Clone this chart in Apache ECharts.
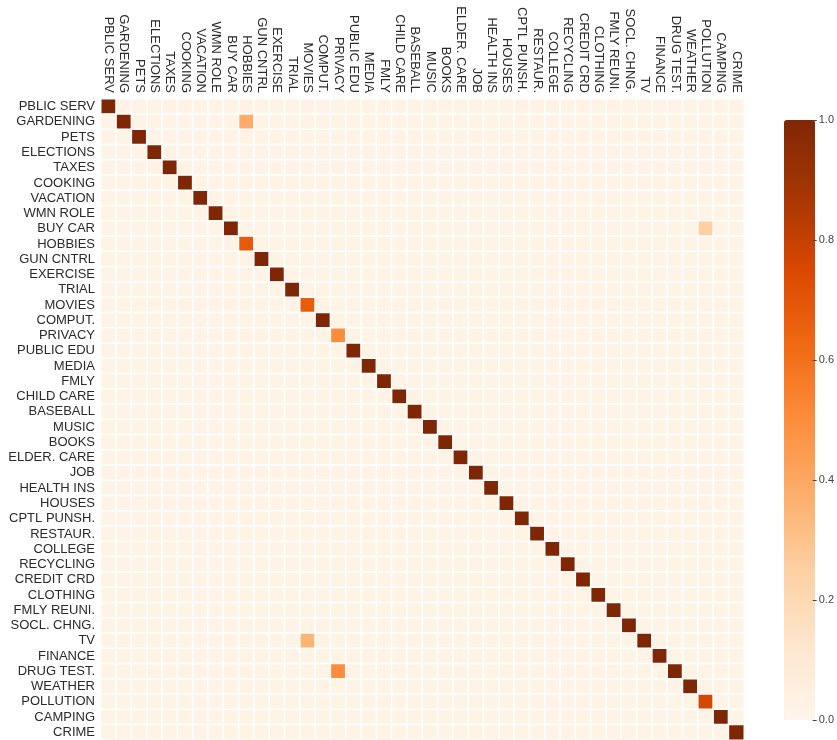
<!DOCTYPE html>
<html>
<head>
<meta charset="utf-8">
<script src="https://cdn.jsdelivr.net/npm/echarts@6/dist/echarts.min.js"></script>
<style>
  html, body { margin: 0; padding: 0; background: #fff; }
  #main { width: 837px; height: 740px; }
</style>
</head>
<body>
<div id="main"></div>
<script>
var topics = ['PBLIC SERV', 'GARDENING', 'PETS', 'ELECTIONS', 'TAXES', 'COOKING', 'VACATION',
  'WMN ROLE', 'BUY CAR', 'HOBBIES', 'GUN CNTRL', 'EXERCISE', 'TRIAL', 'MOVIES', 'COMPUT.',
  'PRIVACY', 'PUBLIC EDU', 'MEDIA', 'FMLY', 'CHILD CARE', 'BASEBALL', 'MUSIC', 'BOOKS',
  'ELDER. CARE', 'JOB', 'HEALTH INS', 'HOUSES', 'CPTL PUNSH.', 'RESTAUR.', 'COLLEGE',
  'RECYCLING', 'CREDIT CRD', 'CLOTHING', 'FMLY REUNI.', 'SOCL. CHNG.', 'TV', 'FINANCE',
  'DRUG TEST.', 'WEATHER', 'POLLUTION', 'CAMPING', 'CRIME'];

// value on the diagonal, one per topic
var diagonal = [1, 1, 1, 1, 1, 1, 1, 1, 1, 0.68, 1, 1, 1, 0.67, 1, 0.5, 1, 1, 1, 1, 1,
  1, 1, 1, 1, 1, 1, 1, 1, 1, 1, 1, 1, 1, 1, 1, 1, 1, 1, 0.76, 1, 1];

// [row topic, column topic, value] for the few visible off-diagonal cells
var offDiagonal = [
  ['GARDENING', 'HOBBIES', 0.38],
  ['BUY CAR', 'POLLUTION', 0.25],
  ['TV', 'MOVIES', 0.35],
  ['DRUG TEST.', 'PRIVACY', 0.5]
];

var background = 0.02;
var colorTicks = [0, 0.2, 0.4, 0.6, 0.8, 1.0];

var oranges = ['#fff5eb', '#fee6ce', '#fdd0a2', '#fdae6b', '#fd8d3c',
  '#f16913', '#d94801', '#a63603', '#7f2704'];

var cells = {};
for (var r = 0; r < topics.length; r++) {
  for (var c = 0; c < topics.length; c++) {
    cells[r + '_' + c] = r === c ? diagonal[r] : background;
  }
}
offDiagonal.forEach(function (d) {
  cells[topics.indexOf(d[0]) + '_' + topics.indexOf(d[1])] = d[2];
});
var data = [];
for (var key in cells) {
  var p = key.split('_');
  data.push([+p[1], +p[0], cells[key]]);
}

var chart = echarts.init(document.getElementById('main'));
chart.setOption({
  animation: false,
  textStyle: { fontFamily: 'Liberation Sans, Arial, sans-serif' },
  grid: [
    { left: 101, top: 99, width: 643, height: 642 },
    { left: 784, top: 120, width: 31, height: 600 }
  ],
  xAxis: [{
    type: 'category',
    data: topics,
    position: 'top',
    gridIndex: 0,
    axisLine: { show: false },
    axisTick: { show: false },
    splitLine: { show: false },
    axisLabel: { rotate: 90, interval: 0, fontSize: 13, color: '#2a2a2a', margin: 6 }
  }, {
    type: 'value',
    gridIndex: 1,
    show: false
  }],
  yAxis: [{
    type: 'category',
    data: topics,
    inverse: true,
    gridIndex: 0,
    axisLine: { show: false },
    axisTick: { show: false },
    splitLine: { show: false },
    axisLabel: { interval: 0, fontSize: 13, color: '#2a2a2a', margin: 6 }
  }, {
    type: 'value',
    gridIndex: 1,
    position: 'right',
    min: 0,
    max: 1,
    interval: 0.2,
    z: 10,
    axisLine: { show: false, onZero: false },
    splitLine: { show: false },
    axisTick: { show: true, length: 4, lineStyle: { color: '#444', width: 1 } },
    axisLabel: {
      fontSize: 11, color: '#444', margin: 6,
      formatter: function (v) {
        return colorTicks.indexOf(Math.round(v * 10) / 10) >= 0 ? v.toFixed(1) : '';
      }
    }
  }],
  visualMap: {
    type: 'continuous',
    min: 0,
    max: 1,
    seriesIndex: 0,
    calculable: false,
    showLabel: false,
    text: ['', ''],
    left: 784,
    top: 120,
    padding: 0,
    itemWidth: 31,
    itemHeight: 600,
    inRange: { color: oranges }
  },
  series: [{
    type: 'heatmap',
    xAxisIndex: 0,
    yAxisIndex: 0,
    data: data,
    itemStyle: { borderColor: '#ffffff', borderWidth: 1.5 },
    emphasis: { disabled: true }
  }]
});
</script>
</body>
</html>
